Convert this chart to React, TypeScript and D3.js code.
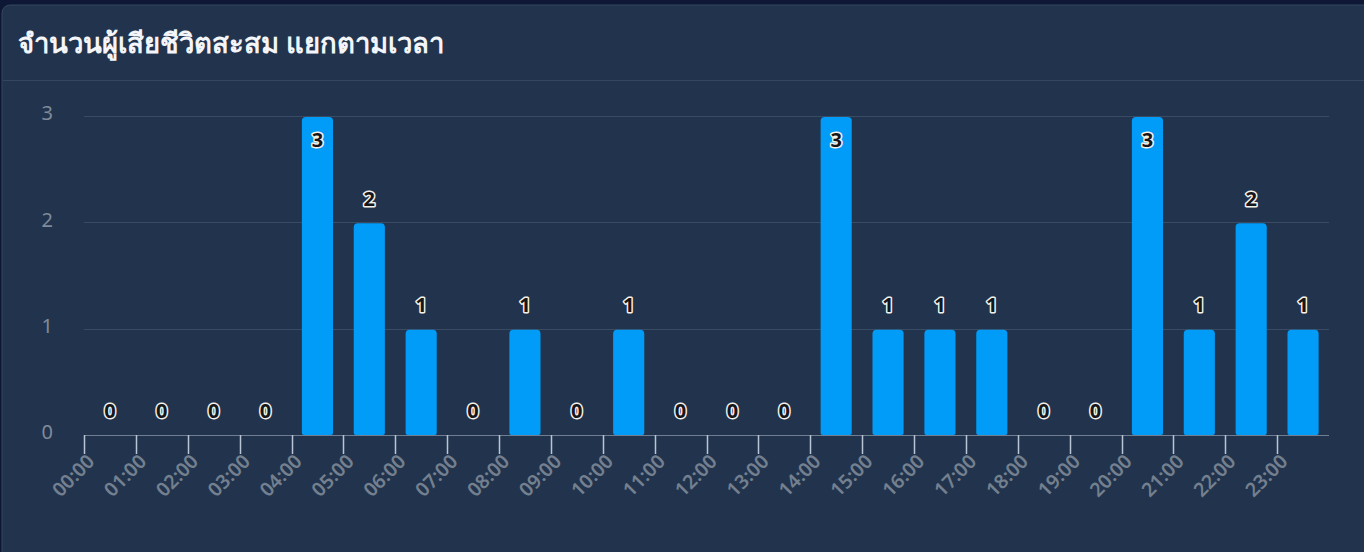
import React, { useEffect, useRef } from 'react';
import * as d3 from 'd3';

const hours = [
  '00:00', '01:00', '02:00', '03:00', '04:00', '05:00', '06:00', '07:00',
  '08:00', '09:00', '10:00', '11:00', '12:00', '13:00', '14:00', '15:00',
  '16:00', '17:00', '18:00', '19:00', '20:00', '21:00', '22:00', '23:00',
];
const deaths = [0, 0, 0, 0, 3, 2, 1, 0, 1, 0, 1, 0, 0, 0, 3, 1, 1, 1, 0, 0, 3, 1, 2, 1];
const yTicks = [0, 1, 2, 3];
const title = 'จำนวนผู้เสียชีวิตสะสม แยกตามเวลา';

export default function App() {
  const svgRef = useRef<SVGSVGElement>(null);

  useEffect(() => {
    if (!svgRef.current) return;
    draw();
  }, []);

  const draw = () => {
    const W = 1364;
    const H = 552;
    const svg = d3.select(svgRef.current);
    svg.selectAll('*').remove();
    svg.attr('width', W).attr('height', H);

    const font = '"Noto Sans", "DejaVu Sans", sans-serif';

    // page + card
    svg.append('rect').attr('width', W).attr('height', H).attr('fill', '#0e1836');
    svg.append('rect')
      .attr('x', 2).attr('y', 5)
      .attr('width', W + 10).attr('height', H + 10)
      .attr('rx', 8)
      .attr('fill', '#22344d')
      .attr('stroke', '#33465e')
      .attr('stroke-width', 1);

    svg.append('text')
      .attr('x', 18).attr('y', 53)
      .style('font-family', font)
      .style('font-size', '27.5px')
      .style('font-weight', 700)
      .style('fill', '#f3f5f9')
      .text(title);

    svg.append('line')
      .attr('x1', 3).attr('x2', W)
      .attr('y1', 80.5).attr('y2', 80.5)
      .attr('stroke', '#35475f');

    const left = 84;
    const right = 1329;
    const top = 116;
    const bottom = 435;

    const x = d3.scaleBand<string>()
      .domain(hours)
      .range([left, right])
      .paddingInner(0.4)
      .paddingOuter(0.2);

    const y = d3.scaleLinear().domain([0, 3]).range([bottom, top]);

    const g = svg.append('g');

    // gridlines
    g.selectAll('.grid')
      .data(yTicks.filter((t) => t > 0))
      .enter()
      .append('line')
      .attr('x1', left).attr('x2', right)
      .attr('y1', (d) => Math.round(y(d)) + 0.5)
      .attr('y2', (d) => Math.round(y(d)) + 0.5)
      .attr('stroke', '#3a4c64')
      .attr('stroke-width', 1);

    // y labels
    g.selectAll('.ylab')
      .data(yTicks)
      .enter()
      .append('text')
      .attr('x', 53)
      .attr('y', (d) => y(d) - 1)
      .attr('text-anchor', 'end')
      .attr('dominant-baseline', 'middle')
      .style('font-family', font)
      .style('font-size', '20px')
      .style('fill', '#7f8b9b')
      .text((d) => d);

    // bars
    const r = 4;
    g.selectAll('.bar')
      .data(deaths)
      .enter()
      .append('path')
      .attr('fill', '#019bf8')
      .attr('d', (d, i) => {
        if (d === 0) return '';
        const bx = x(hours[i])!;
        const bw = x.bandwidth();
        const by = y(d) + 1;
        const bb = bottom;
        const rb = 2;
        return `M${bx},${bb - rb} L${bx},${by + r} Q${bx},${by} ${bx + r},${by} L${bx + bw - r},${by} Q${bx + bw},${by} ${bx + bw},${by + r} L${bx + bw},${bb - rb} Q${bx + bw},${bb} ${bx + bw - rb},${bb} L${bx + rb},${bb} Q${bx},${bb} ${bx},${bb - rb} Z`;
      });

    // x axis
    g.append('line')
      .attr('x1', left).attr('x2', right)
      .attr('y1', bottom + 0.5).attr('y2', bottom + 0.5)
      .attr('stroke', '#6f7e90')
      .attr('stroke-width', 1);

    const tickX = (h: string) => x(h)! - (x.step() - x.bandwidth()) / 2;

    g.selectAll('.tick')
      .data(hours)
      .enter()
      .append('line')
      .attr('x1', (d) => Math.round(tickX(d)) + 0.5)
      .attr('x2', (d) => Math.round(tickX(d)) + 0.5)
      .attr('y1', bottom)
      .attr('y2', bottom + 19)
      .attr('stroke', '#b9c4d4')
      .attr('stroke-width', 1.5);

    g.selectAll('.xlab')
      .data(hours)
      .enter()
      .append('text')
      .attr('transform', (d) => `translate(${tickX(d) + 8},${bottom + 24}) rotate(-45)`)
      .attr('text-anchor', 'end')
      .attr('dominant-baseline', 'middle')
      .style('font-family', font)
      .style('font-size', '19.5px')
      .style('font-weight', 600)
      .style('fill', '#74808f')
      .text((d) => d);

    // data labels
    g.selectAll('.dlab')
      .data(deaths)
      .enter()
      .append('text')
      .attr('x', (d, i) => x(hours[i])! + x.bandwidth() / 2)
      .attr('y', (d) => (d === 3 ? y(d) + 26 : y(d) - 22))
      .attr('text-anchor', 'middle')
      .attr('dominant-baseline', 'middle')
      .style('font-family', font)
      .style('font-size', '20px')
      .style('font-weight', 700)
      .style('fill', '#15161a')
      .style('stroke', '#f4f1ea')
      .style('stroke-width', 3)
      .style('stroke-linejoin', 'round')
      .style('paint-order', 'stroke')
      .text((d) => d);
  };

  return (
    <div style={{ position: 'fixed', left: 0, top: 0, width: 1364, height: 552, overflow: 'hidden' }}>
      <svg ref={svgRef} style={{ display: 'block' }}></svg>
    </div>
  );
}
